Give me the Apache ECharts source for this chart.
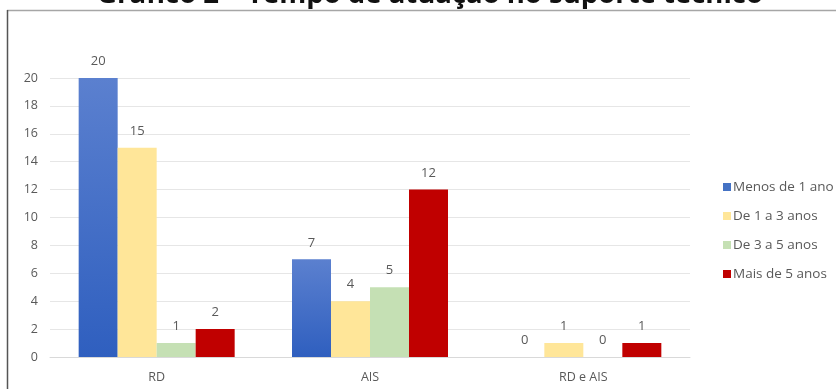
<!DOCTYPE html>
<html><head><meta charset="utf-8">
<script src="https://cdn.jsdelivr.net/npm/echarts@6/dist/echarts.min.js"></script>
<style>html,body{margin:0;padding:0;background:#fff}#c{width:836px;height:389px}</style>
</head><body><div id="c"></div>
<script>
const categories = ['RD', 'AIS', 'RD e AIS'];
const seriesNames = ['Menos de 1 ano', 'De 1 a 3 anos', 'De 3 a 5 anos', 'Mais de 5 anos'];
const menos1 = [20, 7, 0];
const de1a3 = [15, 4, 1];
const de3a5 = [1, 5, 0];
const mais5 = [2, 12, 1];
const yTicks = [0, 2, 4, 6, 8, 10, 12, 14, 16, 18, 20];
const titleText = 'Gráfico 2 – Tempo de atuação no suporte técnico';

const values = [menos1, de1a3, de3a5, mais5];
const colors = [
  new echarts.graphic.LinearGradient(0, 0, 0, 1, [{offset: 0, color: '#5b80cf'}, {offset: 1, color: '#2f5fbf'}]),
  '#ffe699', '#c5e0b4', '#c00000'
];
const legendColors = ['#4472c4', '#ffe699', '#c5e0b4', '#c00000'];

const chart = echarts.init(document.getElementById('c'));
chart.setOption({
  animation: false,
  graphic: [
    {type: 'line', shape: {x1: 7, y1: 10.5, x2: 836, y2: 10.5}, style: {stroke: '#a6a6a6', lineWidth: 1.5}, z: 10},
    {type: 'line', shape: {x1: 7.5, y1: 10, x2: 7.5, y2: 389}, style: {stroke: '#555', lineWidth: 1.5}, z: 10},
    {type: 'text', left: 97, top: -19, style: {text: titleText, font: 'bold 27.5px "Open Sans", sans-serif', fill: '#111'}, z: 5}
  ],
  legend: {
    orient: 'vertical', left: 718, top: 175, itemGap: 15,
    itemWidth: 8, itemHeight: 8, icon: 'rect',
    textStyle: {color: '#595959', fontSize: 13.5, fontFamily: 'Open Sans', padding: [0, 0, 0, -3]},
    data: seriesNames.map((n, i) => ({name: n, itemStyle: {color: legendColors[i]}}))
  },
  grid: {left: 50, right: 146, top: 78, bottom: 32, containLabel: false},
  xAxis: {
    type: 'category', data: categories,
    axisLine: {lineStyle: {color: '#d9d9d9'}}, axisTick: {show: false},
    axisLabel: {color: '#595959', fontSize: 12.5, fontFamily: 'Open Sans', margin: 14}
  },
  yAxis: {
    type: 'value', min: 0, max: 20, interval: 2,
    axisLabel: {color: '#595959', fontSize: 12.5, fontFamily: 'Open Sans', margin: 12,
      formatter: v => yTicks.includes(v) ? String(v) : ''},
    splitLine: {lineStyle: {color: '#e6e6e6'}}, axisLine: {show: false}, axisTick: {show: false}
  },
  series: values.map((d, i) => ({
    name: seriesNames[i], type: 'bar', data: d, barWidth: 39, barGap: '0%',
    itemStyle: {color: colors[i]},
    label: {show: true, position: 'top', distance: 10, color: '#595959', fontSize: 13, fontFamily: 'Open Sans'}
  }))
});
</script></body></html>
